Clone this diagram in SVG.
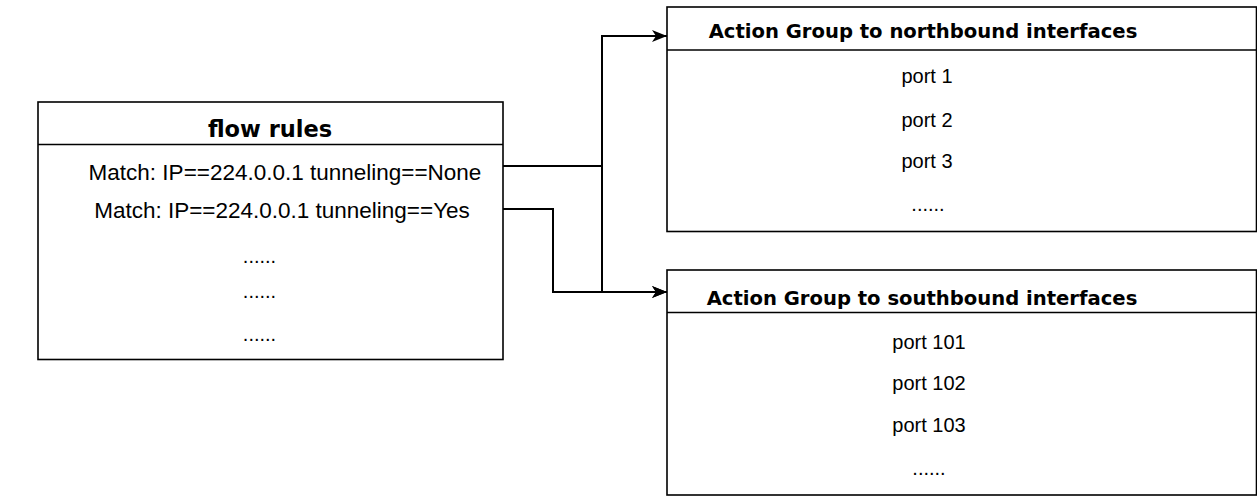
<svg xmlns="http://www.w3.org/2000/svg" width="1257" height="497" viewBox="0 0 1257 497">
<style>
.box{fill:#fff;stroke:#000;stroke-width:1.6}
.sep{stroke:#000;stroke-width:1.6}
.hdr{font-family:"DejaVu Sans",Verdana,sans-serif;font-weight:bold;font-size:19.6px;text-anchor:middle;fill:#000}
.big{font-size:22.5px}
.row{font-family:"Liberation Sans",Arial,sans-serif;font-size:20px;text-anchor:middle;fill:#000}
.match{font-size:22.5px}
.edge{fill:none;stroke:#000;stroke-width:2}
</style>
<defs>
<marker id="arr" viewBox="0 0 15 12" refX="15" refY="6" markerWidth="15" markerHeight="12" markerUnits="userSpaceOnUse" orient="auto">
<path d="M0,0 L15,6 L0,12 L4,6 Z" fill="#000"/>
</marker>
</defs>
<g id="flow-rules">
<rect class="box" x="38" y="102" width="465" height="257.5"/>
<line class="sep" x1="38" y1="144.5" x2="503" y2="144.5"/>
<text class="hdr big" x="270" y="137">flow rules</text>
<text class="row match" x="285" y="180">Match: IP==224.0.0.1 tunneling==None</text>
<text class="row match" x="282" y="218">Match: IP==224.0.0.1 tunneling==Yes</text>
<text class="row" x="259.5" y="263">......</text>
<text class="row" x="259.5" y="298">......</text>
<text class="row" x="259.5" y="341">......</text>
</g>
<g id="northbound">
<rect class="box" x="667" y="7" width="589.5" height="224.5"/>
<line class="sep" x1="667" y1="50" x2="1256.5" y2="50"/>
<text class="hdr" x="923" y="38">Action Group to northbound interfaces</text>
<text class="row" x="927" y="83">port 1</text>
<text class="row" x="927" y="127">port 2</text>
<text class="row" x="927" y="168">port 3</text>
<text class="row" x="928" y="211">......</text>
</g>
<g id="southbound">
<rect class="box" x="667" y="270" width="589.5" height="225"/>
<line class="sep" x1="667" y1="312.5" x2="1256.5" y2="312.5"/>
<text class="hdr" x="922" y="305">Action Group to southbound interfaces</text>
<text class="row" x="929" y="349">port 101</text>
<text class="row" x="929" y="390">port 102</text>
<text class="row" x="929" y="432">port 103</text>
<text class="row" x="929" y="475">......</text>
</g>
<g id="connectors">
<path class="edge" d="M503,166 H602 V36 H667" marker-end="url(#arr)"/>
<path class="edge" d="M503,166 H602 V292 H667" marker-end="url(#arr)"/>
<path class="edge" d="M503,209 H553 V292 H667" marker-end="url(#arr)"/>
</g>
</svg>
